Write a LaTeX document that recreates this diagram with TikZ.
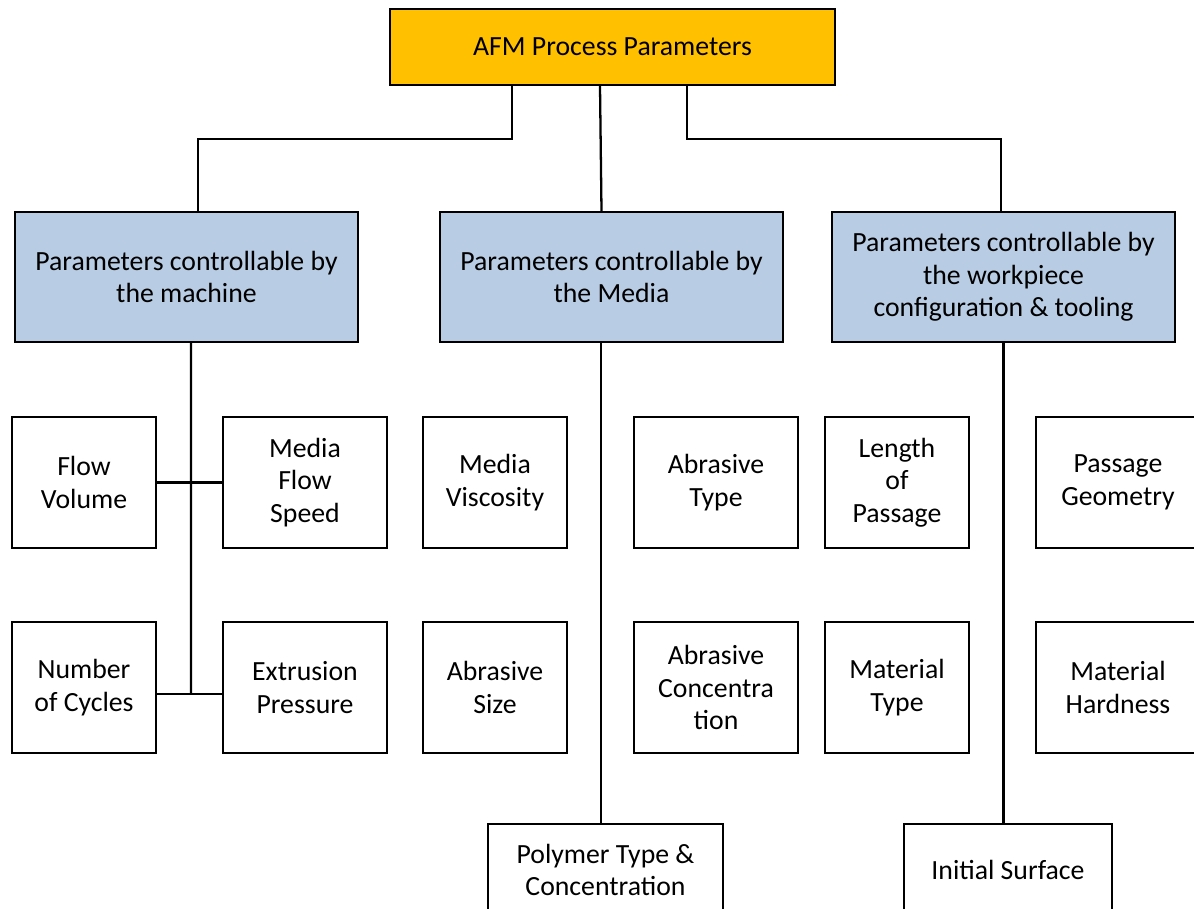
\documentclass[tikz,border=0pt]{standalone}
\usepackage{fontspec}
\setmainfont{Carlito}
\usepackage{tikz}
\usetikzlibrary{positioning,calc}
\definecolor{afmorange}{HTML}{FFC000}
\definecolor{afmblue}{HTML}{B8CCE4}
\tikzset{box/.style={draw=black, line width=1.2pt, rectangle, align=center, inner sep=2pt,
                     font=\fontsize{15.8}{18.6}\selectfont},
         narrow/.style={box, minimum width=2.88cm, minimum height=2.62cm},
         wide/.style={box, minimum width=3.28cm, minimum height=2.62cm},
         group/.style={box, fill=afmblue, minimum width=6.86cm, minimum height=2.6cm},
         link/.style={line width=1.3pt}}

\begin{document}
\begin{tikzpicture}[x=0.02cm, y=-0.02cm]
\useasboundingbox (0,0) rectangle (1194,909);
\clip (0,0) rectangle (1194,909);

% top and groups
\node[box, fill=afmorange, minimum width=8.9cm, minimum height=1.52cm] (afm) at (612.5,47) {AFM Process Parameters};

\node[group] (mach) at (186.5,277) {Parameters controllable by\\the machine};
\node[group] (media) at (611.5,277) {Parameters controllable by\\the Media};
\node[group] (work) at (1003.5,277) {Parameters controllable by\\the workpiece\\configuration \& tooling};

% machine
\node[narrow] (flow) at (84,482.5) {Flow\\Volume};
\node[wide] (speed) at (305,482.5) {Media\\Flow\\Speed};
\node[narrow] (cyc) at (84,687.5) {Number\\of Cycles};
\node[wide] (press) at (305,687.5) {Extrusion\\Pressure};

% media
\node[narrow] (visc) at (495,482.5) {Media\\Viscosity};
\node[narrow] (asize) at (495,687.5) {Abrasive\\Size};
\node[wide] (atype) at (716,482.5) {Abrasive\\Type};
\node[wide] (aconc) at (716,687.5) {Abrasive\\Concentra\\tion};
\node[box, minimum width=4.7cm, minimum height=1.84cm] (poly) at (605.5,870) {Polymer Type \&\\Concentration};

% workpiece
\node[narrow] (len) at (897,482.5) {Length\\of\\Passage};
\node[narrow] (mtype) at (897,687.5) {Material\\Type};
\node[wide] (geom) at (1118,482.5) {Passage\\Geometry};
\node[wide] (hard) at (1118,687.5) {Material\\Hardness};
\node[box, minimum width=4.16cm, minimum height=1.84cm] (init) at (1008,870) {Initial Surface};

% connectors
\draw[link] ([xshift=-2.01cm]afm.south) -- ++(0,-1.06cm) -| ([xshift=0.23cm]mach.north);
\draw[link] ([xshift=-0.25cm]afm.south) -- ([xshift=-0.2cm]media.north);
\draw[link] ([xshift=1.49cm]afm.south) -- ++(0,-1.06cm) -| ([xshift=-0.05cm]work.north);

\coordinate (mjoin) at (191,694);
\draw[link] ([xshift=0.09cm]mach.south) -- (mjoin);
\draw[link] (flow.east) -- (speed.west);
\draw[link] ([yshift=-0.13cm]cyc.east) -- ([yshift=-0.13cm]press.west);

\draw[link] ([xshift=-0.21cm]media.south) -- ([xshift=-0.21cm]media.south |- poly.north);
\draw[link] (work.south) -- (work.south |- init.north);
\end{tikzpicture}
\end{document}
